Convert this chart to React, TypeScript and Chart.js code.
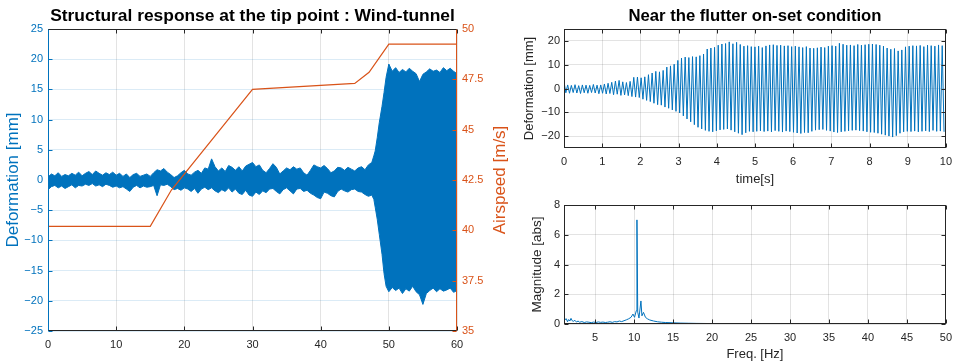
import React, { useEffect, useRef } from 'react';
import { Chart, registerables } from 'chart.js';

Chart.register(...registerables);

const BLUE = '#0072BD';
const ORANGE = '#D95319';
const DARK = '#262626';
const GRID = 'rgba(38,38,38,0.13)';
const GRID_BLUE = 'rgba(0,114,189,0.14)';
const FONT = "'Liberation Sans', Arial, Helvetica, sans-serif";

// ---------------- Left chart: tip response (envelope of the signal) ----------------
const noiseStart = 0;
const noiseStep = 0.5;
const noiseUpper = [
  0.5, 1.0, 0.7, 1.2, 0.6, 0.9, 0.7, 1.1, 0.8, 1.3,
  0.7, 1.1, 1.4, 0.9, 1.5, 1.1, 0.8, 1.2, 0.9, 1.3,
  0.8, 1.1, 0.6, 1.0, 0.4, 0.9, 1.1, 0.6, 0.8, 1.0,
  0.6, 1.2, 1.7, 1.5, 1.9, 1.3, 0.9, 0.4, 0.7, 1.2,
  1.6, 1.0, 0.8, 1.3, 1.6, 1.1, 2.0, 1.8, 3.5, 2.2,
  1.5, 2.0, 1.4, 2.4, 2.1, 1.6, 2.2, 1.5, 2.3, 2.6,
  2.9, 2.2, 2.5, 1.6, 1.2, 1.9, 2.7, 2.1, 1.0, 1.5,
  2.0, 1.7, 2.2, 1.8, 2.0, 1.2, 0.8, 1.6, 2.5, 2.2,
  2.0, 2.4, 1.9, 1.2, 1.5, 2.1, 2.0, 1.6, 2.1, 1.8,
  1.5, 2.0, 2.2, 1.7, 2.5,
];
const noiseLower = [
  -1.6, -1.1, -0.9, -1.3, -1.0, -1.4, -1.1, -0.8, -1.3, -0.9,
  -1.0, -0.7, -0.9, -0.6, -1.0, -0.8, -1.1, -0.7, -0.9, -1.2,
  -1.0, -1.3, -1.1, -1.5, -1.9, -1.2, -0.9, -1.3, -1.0, -1.2,
  -1.1, -0.9, -2.6, -0.8, -0.9, -0.7, -1.1, -1.6, -1.4, -1.7,
  -1.3, -1.5, -1.9, -1.4, -2.2, -1.5, -1.2, -1.6, -1.3, -1.8,
  -2.1, -1.6, -1.9, -1.3, -2.0, -1.5, -2.2, -2.4, -1.7, -2.5,
  -2.7, -2.0, -2.4, -1.8, -2.1, -1.5, -1.4, -1.9, -2.3, -1.6,
  -1.3, -1.8, -2.3, -1.5, -1.4, -1.9, -1.7, -2.2, -2.5, -2.9,
  -3.1, -2.0, -2.2, -2.6, -2.8, -1.9, -1.5, -1.8, -2.0, -1.6,
  -1.5, -1.9, -2.0, -2.4, -2.7,
];
const onsetTime = [47.5, 47.8, 48.0, 48.3, 48.6, 49.0, 49.3, 49.6, 50.0, 50.5, 51, 51.5, 52, 52.5, 53, 53.5, 54, 54.5, 55, 55.5, 56, 56.5, 57, 57.5, 58, 58.5, 59, 59.5, 60];
const onsetUpper = [2.9, 4.0, 4.8, 7.0, 9.5, 12.2, 14.5, 17.0, 19.2, 18.0, 18.6, 17.8, 18.3, 17.9, 18.5, 18.0, 17.6, 16.3, 17.5, 17.9, 18.4, 18.0, 18.2, 17.8, 18.6, 18.1, 18.5, 18.0, 17.6];
const onsetLower = [-2.5, -3.2, -4.5, -6.5, -9.0, -12.3, -15.5, -17.6, -18.5, -17.8, -18.3, -17.9, -18.8, -18.0, -18.4, -17.6, -18.5, -19.0, -20.6, -18.8, -18.3, -17.9, -18.5, -18.0, -18.4, -18.2, -17.9, -18.6, -18.3];

const airTime = [0, 15, 18.1, 30, 45, 47.1, 50, 60];
const airSpeed = [40.2, 40.2, 42.0, 47.0, 47.3, 47.85, 49.25, 49.25];

const leftXTicks = [0, 10, 20, 30, 40, 50, 60];
const leftYTicks = [-25, -20, -15, -10, -5, 0, 5, 10, 15, 20, 25];
const airTicks = [35, 37.5, 40, 42.5, 45, 47.5, 50];

// ---------------- Right top: near flutter onset (per-cycle peaks) ----------------
const flutterFreq = 10.4;
const flutterPeaksPos = [
  2.8, 1.5, 1.3, 1.6, 1.2, 1.5, 1.4, 1.3, 1.7, 1.4, 1.5,
  1.9, 2.2, 2.6, 3.1, 3.4, 2.8, 2.5, 3.0, 4.7, 4.8,
  4.5, 4.9, 5.8, 6.5, 7.2, 7.0, 7.6, 9.0, 9.5, 10.2, 11.8,
  12.8, 13.2, 13.0, 13.4, 13.3, 13.8, 14.5, 16.6, 17.0, 17.3,
  18.2, 18.7, 18.9, 19.6, 18.8, 19.4, 18.5, 17.8, 18.0, 17.6,
  17.5, 17.8, 17.2, 17.9, 18.3, 18.4, 18.1, 18.2, 17.9, 18.0, 17.6,
  17.8, 17.5, 17.2, 17.6, 17.0, 16.9, 17.1, 17.4, 17.2, 17.8,
  18.0, 17.8, 19.0, 18.6, 18.2, 18.3, 18.0, 18.5, 18.2, 18.4, 18.6,
  18.7, 18.5, 18.2, 17.8, 17.0, 16.5, 16.8, 15.8, 16.2, 17.5,
  17.8, 18.0, 17.9, 18.1, 17.6, 18.2, 18.0, 17.8, 18.3, 18.0,
];
const flutterPeaksNeg = [
  -1.8, -2.0, -1.7, -1.9, -2.1, -1.8, -2.0, -1.7, -1.9, -2.2, -2.0,
  -2.3, -2.1, -2.6, -2.4, -2.9, -2.7, -3.0, -3.4, -3.6, -3.8,
  -4.5, -5.0, -5.5, -6.2, -6.8, -7.0, -7.8, -8.3, -9.0, -9.6, -10.3,
  -11.5, -12.8, -14.0, -15.2, -16.3, -17.0, -17.6, -18.0, -18.2, -17.8,
  -17.4, -17.2, -17.0, -17.5, -18.2, -18.8, -19.4, -18.6, -18.0, -18.2,
  -18.0, -17.8, -18.1, -17.9, -18.2, -17.7, -18.0, -18.3, -17.9, -18.1, -18.4,
  -18.7, -18.9, -18.5, -18.6, -18.0, -17.5, -17.3, -17.2, -17.6, -17.9,
  -18.3, -18.5, -18.2, -18.0, -17.8, -17.6, -17.5, -17.7, -17.9, -18.2, -18.4,
  -18.5, -18.8, -19.2, -19.6, -20.0, -20.4, -19.8, -18.8, -18.2, -18.0,
  -18.1, -17.9, -18.2, -18.0, -17.8, -18.1, -17.6, -18.0, -17.9, -18.2,
];
const timeTicks = [0, 1, 2, 3, 4, 5, 6, 7, 8, 9, 10];
const defTicks = [-20, -10, 0, 10, 20];

// ---------------- Right bottom: spectrum ----------------
const fftFreq = [
  1.0, 1.15, 1.3, 1.45, 1.6, 1.75, 1.9, 2.05, 2.2, 2.4, 2.6, 2.8, 3.0, 3.3, 3.6, 3.9, 4.2, 4.5, 4.8,
  5.1, 5.4, 5.7, 6.0, 6.3, 6.6, 6.9, 7.2, 7.5, 7.8, 8.1, 8.4, 8.7, 9.0, 9.3, 9.6, 9.85, 10.05,
  10.28, 10.36, 10.46, 10.62, 10.87, 11.0, 11.2, 11.45, 11.7, 12.0, 12.5, 13.0, 13.5, 14.0,
  15.0, 16.0, 17.0, 18.0, 20.0, 22.0, 25.0, 30.0, 35.0, 40.0, 45.0, 50.0,
];
const fftMag = [
  0.45, 0.3, 0.35, 0.15, 0.3, 0.2, 0.38, 0.22, 0.18, 0.25, 0.13, 0.2, 0.12, 0.16, 0.1, 0.14, 0.12, 0.09, 0.13,
  0.1, 0.14, 0.11, 0.13, 0.1, 0.12, 0.15, 0.11, 0.16, 0.14, 0.2, 0.16, 0.22, 0.28, 0.35, 0.45, 0.67, 0.45,
  0.9, 7.0, 0.8, 0.4, 1.55, 0.55, 0.78, 0.45, 0.35, 0.27, 0.2, 0.15, 0.12, 0.1,
  0.08, 0.06, 0.05, 0.04, 0.03, 0.025, 0.02, 0.015, 0.012, 0.01, 0.01, 0.01,
];
const freqTicks = [5, 10, 15, 20, 25, 30, 35, 40, 45, 50];
const magTicks = [0, 2, 4, 6, 8];

// ---------------- helpers ----------------
const fmt = (v: number) => (v < 0 ? '\u2212' + Math.abs(v) : String(v));
const setTicks = (vals: number[]) => (s: any) => {
  s.ticks = vals.map((v) => ({ value: v }));
};

const matlabAxes = {
  id: 'matlabAxes',
  afterDatasetsDraw(chart: any, _a: any, o: any) {
    const { ctx, chartArea } = chart;
    const l = Math.round(chartArea.left) + 0.5;
    const r = Math.round(chartArea.right) - 0.5;
    const t = Math.round(chartArea.top) + 0.5;
    const b = Math.round(chartArea.bottom) - 0.5;
    const L = 4;
    const line = (x1: number, y1: number, x2: number, y2: number, c: string) => {
      ctx.strokeStyle = c;
      ctx.beginPath();
      ctx.moveTo(x1, y1);
      ctx.lineTo(x2, y2);
      ctx.stroke();
    };
    ctx.save();
    ctx.lineWidth = 1;
    const xs = chart.scales.x;
    xs.ticks.forEach((tk: any) => {
      const px = Math.round(xs.getPixelForValue(tk.value)) + 0.5;
      line(px, b, px, b - L, o.bottomColor);
      line(px, t, px, t + L, o.topColor);
    });
    const ys = chart.scales.y;
    ys.ticks.forEach((tk: any) => {
      const py = Math.round(ys.getPixelForValue(tk.value)) + 0.5;
      line(l, py, l + L, py, o.leftColor);
      if (!chart.scales.y1) line(r, py, r - L, py, o.rightColor);
    });
    if (chart.scales.y1) {
      const y1 = chart.scales.y1;
      y1.ticks.forEach((tk: any) => {
        const py = Math.round(y1.getPixelForValue(tk.value)) + 0.5;
        line(r, py, r - L, py, o.rightColor);
      });
    }
    line(l - 0.5, t, r + 0.5, t, o.topColor);
    line(l - 0.5, b, r + 0.5, b, o.bottomColor);
    line(l, t, l, b, o.leftColor);
    line(r, t, r, b, o.rightColor);
    ctx.restore();
  },
  afterDraw(chart: any, _a: any, o: any) {
    const { ctx, chartArea } = chart;
    ctx.save();
    if (o.title) {
      ctx.font = `bold ${o.title.size}px ${FONT}`;
      ctx.fillStyle = '#000';
      ctx.textAlign = 'center';
      ctx.textBaseline = 'middle';
      ctx.fillText(o.title.text, (chartArea.left + chartArea.right) / 2, o.title.y);
    }
    if (o.rightLabel) {
      const rl = o.rightLabel;
      ctx.translate(rl.x, (chartArea.top + chartArea.bottom) / 2);
      ctx.rotate(-Math.PI / 2);
      ctx.font = `${rl.size}px ${FONT}`;
      ctx.fillStyle = rl.color;
      ctx.textAlign = 'center';
      ctx.textBaseline = 'middle';
      ctx.fillText(rl.text, 0, 0);
    }
    ctx.restore();
  },
};

const tickFont = { family: FONT, size: 11 };

function buildLeft(): any {
  const upper: any[] = noiseUpper.map((v, i) => ({ x: noiseStart + i * noiseStep, y: v }));
  const lower: any[] = noiseLower.map((v, i) => ({ x: noiseStart + i * noiseStep, y: v }));
  onsetTime.forEach((tm, i) => {
    upper.push({ x: tm, y: onsetUpper[i] });
    lower.push({ x: tm, y: onsetLower[i] });
  });
  const air = airTime.map((tm, i) => ({ x: tm, y: airSpeed[i] }));
  return {
    type: 'line',
    data: {
      datasets: [
        { data: air, borderColor: ORANGE, borderWidth: 1.2, pointRadius: 0, fill: false, yAxisID: 'y1', order: 0 },
        { data: upper, borderColor: BLUE, backgroundColor: BLUE, borderWidth: 1, pointRadius: 0, fill: '+1', yAxisID: 'y', order: 1 },
        { data: lower, borderColor: BLUE, borderWidth: 1, pointRadius: 0, fill: false, yAxisID: 'y', order: 1 },
      ],
    },
    options: {
      animation: false,
      responsive: false,
      events: [],
      layout: { padding: { top: 29, left: 0, right: 0, bottom: 0 } },
      plugins: {
        legend: { display: false },
        tooltip: { enabled: false },
        matlabAxes: {
          topColor: DARK, bottomColor: DARK, leftColor: BLUE, rightColor: ORANGE,
          title: { text: 'Structural response at the tip point : Wind-tunnel', size: 17.4, y: 16 },
          rightLabel: { text: 'Airspeed [m/s]', x: 500, size: 17, color: ORANGE },
        },
      },
      scales: {
        x: {
          type: 'linear', min: 0, max: 60,
          afterBuildTicks: setTicks(leftXTicks),
          afterFit: (s: any) => { s.height = 33; },
          grid: { color: GRID, drawTicks: false },
          border: { display: false },
          ticks: { font: tickFont, color: DARK, padding: 7, maxRotation: 0, autoSkip: false, callback: (v: number) => fmt(v) },
        },
        y: {
          type: 'linear', position: 'left', min: -25, max: 25,
          afterBuildTicks: setTicks(leftYTicks),
          afterFit: (s: any) => { s.width = 48; },
          grid: { color: GRID_BLUE, drawTicks: false },
          border: { display: false },
          ticks: { font: tickFont, color: BLUE, padding: 5, autoSkip: false, callback: (v: number) => fmt(v) },
          title: { display: true, text: 'Deformation [mm]', color: BLUE, font: { family: FONT, size: 17 }, padding: { top: 3.5, bottom: 0 } },
        },
        y1: {
          type: 'linear', position: 'right', min: 35, max: 50,
          afterBuildTicks: setTicks(airTicks),
          afterFit: (s: any) => { s.width = 58; },
          grid: { display: false, drawTicks: false },
          border: { display: false },
          ticks: { font: tickFont, color: ORANGE, padding: 5, autoSkip: false, callback: (v: number) => fmt(v) },
        },
      },
    },
    plugins: [matlabAxes],
  };
}

function buildTop(): any {
  const pts: any[] = [];
  flutterPeaksPos.forEach((p, i) => {
    pts.push({ x: i / flutterFreq, y: p });
    pts.push({ x: (i + 0.5) / flutterFreq, y: flutterPeaksNeg[i] });
  });
  return {
    type: 'line',
    data: { datasets: [{ data: pts, borderColor: BLUE, borderWidth: 1, pointRadius: 0, fill: false }] },
    options: {
      animation: false,
      responsive: false,
      events: [],
      layout: { padding: { top: 29, left: 0, right: 11, bottom: 0 } },
      plugins: {
        legend: { display: false },
        tooltip: { enabled: false },
        matlabAxes: {
          topColor: DARK, bottomColor: DARK, leftColor: DARK, rightColor: DARK,
          title: { text: 'Near the flutter on-set condition', size: 16.7, y: 16 },
        },
      },
      scales: {
        x: {
          type: 'linear', min: 0, max: 10,
          afterBuildTicks: setTicks(timeTicks),
          afterFit: (s: any) => { s.height = 42; },
          grid: { color: GRID, drawTicks: false },
          border: { display: false },
          ticks: { font: tickFont, color: DARK, padding: 7, maxRotation: 0, autoSkip: false, callback: (v: number) => fmt(v) },
          title: { display: true, text: 'time[s]', color: DARK, font: { family: FONT, size: 13 }, padding: { top: 0, bottom: 3.2 } },
        },
        y: {
          type: 'linear', min: -25, max: 25,
          afterBuildTicks: setTicks(defTicks),
          afterFit: (s: any) => { s.width = 44; },
          grid: { color: GRID, drawTicks: false },
          border: { display: false },
          ticks: { font: tickFont, color: DARK, padding: 4, autoSkip: false, callback: (v: number) => fmt(v) },
          title: { display: true, text: 'Deformation [mm]', color: DARK, font: { family: FONT, size: 13 }, padding: { top: 1.9, bottom: 0 } },
        },
      },
    },
    plugins: [matlabAxes],
  };
}

function buildBottom(): any {
  const pts = fftFreq.map((f, i) => ({ x: f, y: fftMag[i] }));
  return {
    type: 'line',
    data: { datasets: [{ data: pts, borderColor: BLUE, borderWidth: 1, pointRadius: 0, fill: false }] },
    options: {
      animation: false,
      responsive: false,
      events: [],
      layout: { padding: { top: 20, left: 0, right: 11, bottom: 0 } },
      plugins: {
        legend: { display: false },
        tooltip: { enabled: false },
        matlabAxes: { topColor: DARK, bottomColor: DARK, leftColor: DARK, rightColor: DARK },
      },
      scales: {
        x: {
          type: 'linear', min: 1, max: 50,
          afterBuildTicks: setTicks(freqTicks),
          afterFit: (s: any) => { s.height = 40; },
          grid: { color: GRID, drawTicks: false },
          border: { display: false },
          ticks: { font: tickFont, color: DARK, padding: 7, maxRotation: 0, autoSkip: false, callback: (v: number) => fmt(v) },
          title: { display: true, text: 'Freq. [Hz]', color: DARK, font: { family: FONT, size: 13 }, padding: { top: 0, bottom: 1.7 } },
        },
        y: {
          type: 'linear', min: 0, max: 8,
          afterBuildTicks: setTicks(magTicks),
          afterFit: (s: any) => { s.width = 44; },
          grid: { color: GRID, drawTicks: false },
          border: { display: false },
          ticks: { font: tickFont, color: DARK, padding: 4, autoSkip: false, callback: (v: number) => fmt(v) },
          title: { display: true, text: 'Magnitude [abs]', color: DARK, font: { family: FONT, size: 13.5 }, padding: { top: 8.9, bottom: 0 } },
        },
      },
    },
    plugins: [matlabAxes],
  };
}

function ChartCanvas(props: { left: number; top: number; width: number; height: number; build: () => any }) {
  const ref = useRef<HTMLCanvasElement>(null);
  useEffect(() => {
    const chart = new Chart(ref.current as HTMLCanvasElement, props.build());
    return () => chart.destroy();
  }, []);
  return (
    <canvas
      ref={ref}
      width={props.width}
      height={props.height}
      style={{ position: 'absolute', left: props.left, top: props.top, width: props.width, height: props.height }}
    />
  );
}

export default function App() {
  return (
    <div style={{ position: 'absolute', left: 0, top: 0, width: 959, height: 364, background: '#fff', overflow: 'hidden' }}>
      <ChartCanvas left={0} top={0} width={515} height={364} build={buildLeft} />
      <ChartCanvas left={520} top={0} width={439} height={190} build={buildTop} />
      <ChartCanvas left={520} top={185} width={439} height={179} build={buildBottom} />
    </div>
  );
}
